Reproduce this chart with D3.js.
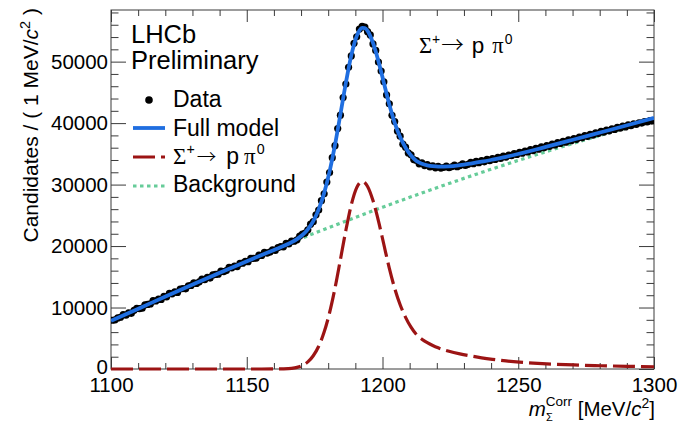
<!DOCTYPE html>
<html><head><meta charset="utf-8">
<script src="https://cdn.jsdelivr.net/npm/d3@7/dist/d3.min.js"></script>
<style>
body{margin:0;background:#fff;}
svg{display:block;}
text{font-family:"Liberation Sans",Arial,Helvetica,sans-serif;fill:#000;}
</style></head><body>
<svg id="chart" width="692" height="425"></svg>
<script>
// ---------------- data ----------------
const massRange = [1100, 1300];
const countRange = [0, 58400];
const binLowEdge = 1100, binWidth = 1;
const dataCounts = [
 7930, 8000, 8310, 8420, 8850, 8750, 9120, 9060, 9560, 9850,
 9820, 9900, 10420, 10510, 10590, 11120, 11060, 11360, 11310, 11800,
 11740, 12290, 12230, 12540, 12450, 13010, 13090, 13050, 13540, 13600,
 14010, 13910, 14180, 14630, 14530, 14890, 14790, 15300, 15390, 15430,
 15930, 15850, 16010, 16550, 16460, 16750, 16670, 17190, 17220, 17530,
 17450, 18010, 18010, 18040, 18510, 18460, 18960, 18840, 19000, 19400,
 19290, 19760, 19920, 19880, 20420, 20350, 20800, 20780, 21010, 21630,
 21960, 22110, 22640, 23560, 23960, 25080, 25860, 27390, 28490, 30400,
 31950, 34370, 36330, 39110, 41290, 44160, 46350, 49090, 50930, 52990,
 54040, 55310, 55750, 55600, 54880, 54350, 52880, 51830, 49930, 48480,
 46730, 44590, 43130, 41280, 40260, 38700, 37870, 36580, 36080, 35150,
 34850, 34060, 33920, 33380, 33520, 33100, 33240, 32860, 33050, 32720,
 32980, 32690, 32780, 33010, 32740, 32900, 33150, 32920, 33100, 33390,
 33120, 33300, 33620, 33400, 33760, 33560, 33900, 33700, 34110, 33880,
 34240, 34100, 34430, 34260, 34650, 34480, 34810, 34690, 35040, 34900,
 35230, 35110, 35460, 35300, 35690, 35540, 35880, 35760, 36120, 35980,
 36330, 36200, 36590, 36440, 36820, 36680, 37040, 36900, 37270, 37130,
 37480, 37360, 37740, 37610, 37960, 37850, 38190, 38050, 38420, 38300,
 38650, 38520, 38870, 38740, 39080, 38960, 39300, 39170, 39500, 39380,
 39700, 39590, 39880, 39800, 40050, 40010, 40240, 40190, 40400, 40360
];
const modelMass = [1100,1110.5,1120.5,1130.5,1140.5,1150.5,1155.5,1160.5,1163.5,1166.5,1168.5,
 1170.5,1172.5,1174.5,1176.5,1178.5,1180.5,1182.5,1184.5,1186.5,1188.5,1190.5,1191.5,1192.5,1193.5,1194.5,
 1196.5,1198.5,1200.5,1202.5,1204.5,1206.5,1208.5,1210.5,1212.5,1214.5,1216.5,1218.5,1220.5,1224.5,1228.5,
 1232.5,1236.5,1240.5,1245.5,1250.5,1255.5,1260.5,1270.5,1280.5,1290.5,1300];
const modelFull = [7850,9890,11886,13840,15750,17617,18531,19448,20004,20621,21127,
 21793,22721,24069,25966,28614,32112,36451,41440,46529,51018,54157,55072,55488,55453,55018,
 53048,50079,46560,43032,40054,37726,35998,34720,33833,33396,33140,32993,32926,32976,33165,
 33426,33718,34060,34519,35038,35585,36162,37334,38512,39688,40840];
const modelSignal = [0,0,0,0,0,0,1,6,28,110,260,
 570,1150,2150,3700,6000,9150,13150,17800,22550,26700,29500,30250,30500,30300,29700,
 27400,24100,20250,16400,13100,10450,8400,6800,5600,4850,4280,3820,3440,2880,2460,
 2120,1820,1570,1310,1110,960,840,660,530,440,370];
const bkgMass = [1100,1110,1120,1130,1140,1150,1160,1170,1180,1190,1200,1210,1220,1230,1240,1250,1260,1270,1280,1290,1300];
const bkgValues = [7850,9890,11886,13840,15750,17617,19442,21223,22962,24657,26310,27920,29486,31010,32490,33928,35322,36674,37982,39248,40470];
const xMajorTicks = [1100, 1150, 1200, 1250, 1300];
const yMajorTicks = [0, 10000, 20000, 30000, 40000, 50000];
const legendLabels = ["Data", "Full model", "Background"];

// ---------------- drawing ----------------
const svg = d3.select("#chart");
const X0 = 111, X1 = 654, Y0 = 369, Y1 = 10;
const x = d3.scaleLinear().domain(massRange).range([X0, X1]);
const y = d3.scaleLinear().domain(countRange).range([Y0, Y1]);

const colFull = "#1f6ee0", colSig = "#9c1414", colBkg = "#66cc99", frameCol = "#3a3a3a";

svg.append("defs").append("clipPath").attr("id","clip")
  .append("rect").attr("x",X0).attr("y",Y1).attr("width",X1-X0).attr("height",Y0-Y1+3);

const xMinor = d3.range(1100, 1301, 10).filter(v => !xMajorTicks.includes(v));
const yMinor = d3.range(0, 58001, 2000).filter(v => !yMajorTicks.includes(v));

function styleAxis(g){
  g.select(".domain").remove();
  g.selectAll("line").attr("stroke", frameCol).attr("stroke-width", 1);
  g.selectAll("text").attr("font-size", 20.5).attr("fill","#000")
   .attr("font-family","'Liberation Sans',Arial,sans-serif");
}
// bottom
svg.append("g").attr("transform",`translate(0,${Y0})`)
  .call(d3.axisBottom(x).tickValues(xMajorTicks).tickSize(-12).tickPadding(8).tickFormat(d3.format("d"))).call(styleAxis);
svg.append("g").attr("transform",`translate(0,${Y0})`)
  .call(d3.axisBottom(x).tickValues(xMinor).tickSize(-6).tickFormat("")).call(styleAxis);
// top
svg.append("g").attr("transform",`translate(0,${Y1})`)
  .call(d3.axisTop(x).tickValues(xMajorTicks).tickSize(-12).tickFormat("")).call(styleAxis);
svg.append("g").attr("transform",`translate(0,${Y1})`)
  .call(d3.axisTop(x).tickValues(xMinor).tickSize(-6).tickFormat("")).call(styleAxis);
// left
const yl = svg.append("g").attr("transform",`translate(${X0},0)`)
  .call(d3.axisLeft(y).tickValues(yMajorTicks).tickSize(-15).tickPadding(3).tickFormat(d3.format("d"))).call(styleAxis);
yl.selectAll("text").attr("dy", d => d === 0 ? "0.2em" : "0.32em");
svg.append("g").attr("transform",`translate(${X0},0)`)
  .call(d3.axisLeft(y).tickValues(yMinor).tickSize(-7.5).tickFormat("")).call(styleAxis);
// right
svg.append("g").attr("transform",`translate(${X1},0)`)
  .call(d3.axisRight(y).tickValues(yMajorTicks).tickSize(-15).tickFormat("")).call(styleAxis);
svg.append("g").attr("transform",`translate(${X1},0)`)
  .call(d3.axisRight(y).tickValues(yMinor).tickSize(-7.5).tickFormat("")).call(styleAxis);

// frame
svg.append("rect").attr("x",X0).attr("y",Y1).attr("width",X1-X0).attr("height",Y0-Y1)
  .attr("fill","none").attr("stroke",frameCol).attr("stroke-width",1);

const plot = svg.append("g").attr("clip-path","url(#clip)");

// background
plot.append("path").datum(bkgMass.map((m,i)=>[m,bkgValues[i]]))
  .attr("fill","none").attr("stroke",colBkg).attr("stroke-width",3.2).attr("stroke-dasharray","3.5,3.5")
  .attr("d", d3.line().x(d=>x(d[0])).y(d=>y(d[1])).curve(d3.curveMonotoneX));

// data
plot.append("g").selectAll("circle").data(dataCounts).join("circle")
  .attr("cx",(d,i)=>x(binLowEdge + (i+0.5)*binWidth)).attr("cy",d=>y(d)).attr("r",3.6).attr("fill","#000");

// full model
plot.append("path").datum(modelMass.map((m,i)=>[m,modelFull[i]]))
  .attr("fill","none").attr("stroke",colFull).attr("stroke-width",3.8)
  .attr("d", d3.line().x(d=>x(d[0])).y(d=>y(d[1])).curve(d3.curveMonotoneX));

// signal
svg.append("path").datum(modelMass.map((m,i)=>[m,modelSignal[i]]))
  .attr("fill","none").attr("stroke",colSig).attr("stroke-width",3.2).attr("stroke-dasharray","22,6")
  .attr("d", d3.line().x(d=>x(d[0])).y(d=>y(d[1])).curve(d3.curveMonotoneX));

// ---------------- texts ----------------
// y title
const yt = svg.append("text").attr("transform","translate(37.5,8) rotate(-90)")
  .attr("text-anchor","end").attr("font-size",21);
yt.append("tspan").text("Candidates / ( 1 MeV/");
yt.append("tspan").attr("font-style","italic").text("c");
yt.append("tspan").attr("font-size",14.5).attr("dy",-8).text("2");
yt.append("tspan").attr("dy",8).text(" )");

// x title
const xt = svg.append("text").attr("x",655).attr("y",416).attr("text-anchor","end").attr("font-size",20.5);
xt.append("tspan").attr("font-style","italic").text("m");
xt.append("tspan").attr("font-size",11).attr("dy",5).text("Σ");
xt.append("tspan").attr("font-size",13.5).attr("dx",-7).attr("dy",-15).text("Corr");
xt.append("tspan").attr("dy",10).text(" [MeV/");
xt.append("tspan").attr("font-style","italic").text("c");
xt.append("tspan").attr("font-size",14).attr("dy",-8).text("2");
xt.append("tspan").attr("dy",8).text("]");

// LHCb
svg.append("text").attr("x",131).attr("y",43).attr("font-size",25.5).text("LHCb");
svg.append("text").attr("x",131).attr("y",69).attr("font-size",25.5).text("Preliminary");

// decay label helper
function decay(sel, size, arrowScale, gapArrow, gapP, gapPi){
  sel.append("tspan").attr("font-family","'Liberation Serif','Times New Roman',serif").text("Σ");
  sel.append("tspan").attr("font-size",size*0.62).attr("dy",-size*0.42).text("+");
  sel.append("tspan").attr("dy",size*0.42).attr("dx",gapArrow).attr("font-size",size*arrowScale)
     .attr("font-family","'Noto Sans CJK SC','Noto Sans',sans-serif").attr("font-weight",300).text("→");
  sel.append("tspan").attr("dx",gapP).attr("font-size",size).text("p");
  sel.append("tspan").attr("dx",gapPi).attr("font-family","'Liberation Serif','Times New Roman',serif").text("π");
  sel.append("tspan").attr("font-size",size*0.62).attr("dy",-size*0.42).attr("dx",1).text("0");
}
decay(svg.append("text").attr("x",419).attr("y",53).attr("font-size",22.5), 22.5, 1, 1, 8, 8);

// legend
const lg = svg.append("g");
const lx0 = 133, lx1 = 165, tx = 173;
lg.append("circle").attr("cx",149).attr("cy",100).attr("r",3.8).attr("fill","#000");
lg.append("text").attr("x",tx).attr("y",107).attr("font-size",23).text(legendLabels[0]);
lg.append("line").attr("x1",lx0).attr("x2",lx1).attr("y1",128).attr("y2",128)
  .attr("stroke",colFull).attr("stroke-width",3.8);
lg.append("text").attr("x",tx).attr("y",135.5).attr("font-size",23).text(legendLabels[1]);
lg.append("line").attr("x1",lx0).attr("x2",lx1).attr("y1",157).attr("y2",157)
  .attr("stroke",colSig).attr("stroke-width",3.2).attr("stroke-dasharray","22,6");
decay(lg.append("text").attr("x",tx).attr("y",164).attr("font-size",23), 23, 0.85, 2, 10, 5);
lg.append("line").attr("x1",lx0).attr("x2",lx1).attr("y1",186).attr("y2",186)
  .attr("stroke",colBkg).attr("stroke-width",3.2).attr("stroke-dasharray","3.5,3.5");
lg.append("text").attr("x",tx).attr("y",192).attr("font-size",23).text(legendLabels[2]);
</script>
</body></html>
